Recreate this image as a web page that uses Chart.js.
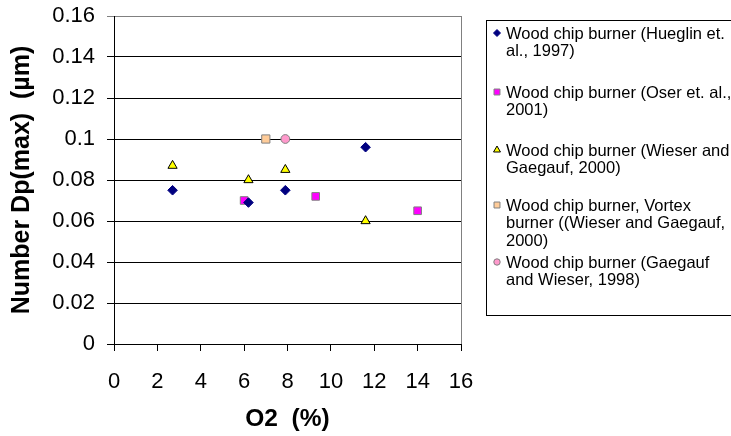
<!DOCTYPE html>
<html>
<head>
<meta charset="utf-8">
<script src="https://cdn.jsdelivr.net/npm/chart.js@4/dist/chart.umd.min.js"></script>
<style>
  body { margin: 0; background: #fff; }
  canvas { display: block; }
</style>
</head>
<body>
<canvas id="myChart" width="731" height="436"></canvas>
<script>
// data
var hueglinX = [2.7, 6.2, 7.9, 11.6];
var hueglinY = [0.075, 0.069, 0.075, 0.096];
var oserX = [6.0, 9.3, 14.0];
var oserY = [0.070, 0.072, 0.065];
var wieserX = [2.7, 6.2, 7.9, 11.6];
var wieserY = [0.087, 0.080, 0.085, 0.060];
var vortexX = [7.0];
var vortexY = [0.100];
var gaegaufX = [7.9];
var gaegaufY = [0.100];

var legendLines = [
  ["Wood chip burner (Hueglin et.", "al., 1997)"],
  ["Wood chip burner (Oser et. al.,", "2001)"],
  ["Wood chip burner (Wieser and", "Gaegauf, 2000)"],
  ["Wood chip burner, Vortex", "burner ((Wieser and Gaegauf,", "2000)"],
  ["Wood chip burner (Gaegauf", "and Wieser, 1998)"]
];

var xTitle = "O2  (%)";
var yTitle = "Number Dp(max)  (\u00b5m)";

function pts(xs, ys) {
  return xs.map(function (x, i) { return { x: x, y: ys[i] }; });
}

var FONT = 'Arial, "Liberation Sans", sans-serif';

// legend drawn by hand so the labels wrap like the original
var boxLegend = {
  id: 'boxLegend',
  afterDraw: function (chart, args, opts) {
    var ctx = chart.ctx;
    ctx.save();
    ctx.strokeStyle = '#000';
    ctx.lineWidth = 1;
    ctx.strokeRect(486.5, 20.5, 260, 295);
    ctx.font = '16.5px ' + FONT;
    ctx.textBaseline = 'middle';
    chart.data.datasets.forEach(function (ds, i) {
      var y0 = opts.itemY[i];
      ctx.fillStyle = ds.backgroundColor;
      ctx.strokeStyle = ds.borderColor;
      ctx.lineWidth = 1;
      Chart.helpers.drawPoint(ctx, {
        pointStyle: ds.pointStyle, radius: opts.markRadius[i], rotation: 0, borderWidth: 1
      }, 497, y0);
      ctx.fillStyle = '#000';
      legendLines[i].forEach(function (line, j) {
        ctx.fillText(line, 506, y0 + 1 + j * 17.5);
      });
    });
    // grey frame on the right of the plot
    var a = chart.chartArea;
    ctx.strokeStyle = '#808080';
    ctx.beginPath();
    ctx.moveTo(Math.round(a.right) + 0.5, a.top);
    ctx.lineTo(Math.round(a.right) + 0.5, a.bottom);
    ctx.stroke();
    ctx.restore();
  }
};

new Chart("myChart", {
  type: "scatter",
  data: {
    datasets: [{
      label: legendLines[0].join(' '),
      data: pts(hueglinX, hueglinY),
      pointStyle: 'rectRot',
      pointRadius: 4.8,
      backgroundColor: '#000080',
      borderColor: '#000080',
      borderWidth: 1
    }, {
      label: legendLines[1].join(' '),
      data: pts(oserX, oserY),
      pointStyle: 'rect',
      pointRadius: 5.4,
      backgroundColor: '#ff00ff',
      borderColor: '#808080',
      borderWidth: 1
    }, {
      label: legendLines[2].join(' '),
      data: pts(wieserX, wieserY),
      pointStyle: 'triangle',
      pointRadius: 5.3,
      backgroundColor: '#ffff00',
      borderColor: '#000000',
      borderWidth: 1
    }, {
      label: legendLines[3].join(' '),
      data: pts(vortexX, vortexY),
      pointStyle: 'rect',
      pointRadius: 5.8,
      backgroundColor: '#ffcc99',
      borderColor: '#808080',
      borderWidth: 1
    }, {
      label: legendLines[4].join(' '),
      data: pts(gaegaufX, gaegaufY),
      pointStyle: 'circle',
      pointRadius: 4.4,
      backgroundColor: '#ff99cc',
      borderColor: '#808080',
      borderWidth: 1
    }]
  },
  options: {
    responsive: false,
    animation: false,
    devicePixelRatio: 1,
    layout: { padding: { top: 16, right: 270, left: 0, bottom: 0 } },
    plugins: {
      legend: { display: false },
      tooltip: { enabled: false },
      boxLegend: {
        itemY: [33, 92, 150, 205, 262],
        markRadius: [3.5, 4.2, 4, 4.2, 3.2]
      }
    },
    scales: {
      x: {
        type: 'linear',
        min: 0,
        max: 16,
        afterFit: function (s) { s.height = 92; s.paddingLeft = 0; s.paddingRight = 0; },
        ticks: { stepSize: 2, color: '#000', font: { family: FONT, size: 22 }, padding: 18, maxRotation: 0 },
        grid: { drawOnChartArea: false, drawTicks: true, tickLength: 7, color: '#000' },
        border: { color: '#000' },
        title: {
          display: true, text: xTitle, color: '#000',
          font: { family: FONT, size: 24.5, weight: 'bold' },
          padding: { top: 0, bottom: 2 }
        }
      },
      y: {
        type: 'linear',
        min: 0,
        max: 0.16,
        afterFit: function (s) { s.width = 114; s.paddingTop = 0; s.paddingBottom = 0; },
        ticks: {
          stepSize: 0.02, color: '#000', font: { family: FONT, size: 22 }, padding: 12,
          callback: function (v) { return String(+v.toFixed(2)); }
        },
        grid: {
          tickLength: 7,
          color: function (c) { return c.tick && c.tick.value > 0.159 ? '#808080' : '#000'; }
        },
        border: { color: '#000' },
        title: {
          display: true, text: yTitle, color: '#000',
          font: { family: FONT, size: 25, weight: 'bold' },
          padding: { top: 7, bottom: 0 }
        }
      }
    }
  },
  plugins: [boxLegend]
});
</script>
</body>
</html>
